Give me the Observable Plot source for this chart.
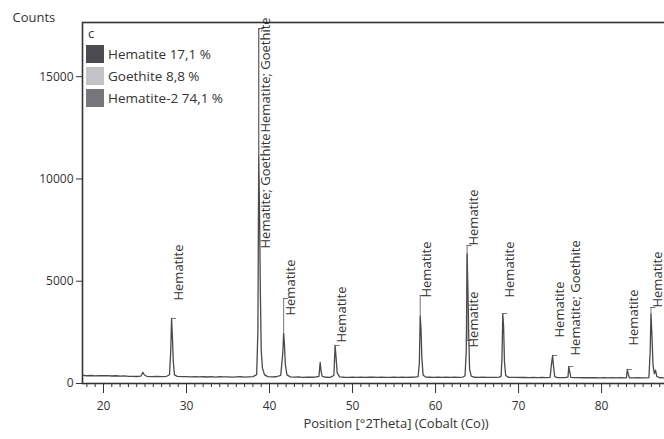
<!DOCTYPE html>
<html>
<head>
<meta charset="utf-8">
<script src="https://cdn.jsdelivr.net/npm/d3@7"></script>
<script src="https://cdn.jsdelivr.net/npm/@observablehq/plot@0.6"></script>
<style>
  html, body { margin: 0; padding: 0; background: #fff; overflow: hidden; }
  #wrap { position: relative; width: 709px; height: 439px; font-family: "Open Sans", sans-serif; color: #333; }
  #legend { position: absolute; left: 86px; top: 24px; font-size: 13.5px; }
  #legend .hdr { position: absolute; left: 2px; top: 0px; line-height: 18px; font-size: 13px; }
  #legend .row { position: absolute; left: 0; height: 18px; display: flex; align-items: center; white-space: nowrap; }
  #legend .sw { width: 18px; height: 18px; margin-right: 4px; }
</style>
</head>
<body>
<div id="wrap"><div id="chart"></div><div id="legend"></div></div>
<script>
// ---- data ----
const twoTheta = [17.5,18.0,18.5,19.0,19.5,20.0,20.5,21.0,21.5,22.0,22.5,23.0,23.5,24.0,24.5,24.75,24.9,25.2,25.8,26.5,27.0,27.6,27.95,28.1,28.2,28.3,28.4,28.55,28.9,29.5,30.0,30.5,31.0,31.5,32.0,32.5,33.0,33.5,34.0,34.5,35.0,35.5,36.0,36.5,37.0,37.5,38.0,38.45,38.6,38.7,38.8,38.9,39.0,39.15,39.4,39.8,40.3,40.8,41.35,41.6,41.7,41.8,41.9,42.1,42.5,43.0,43.5,44.0,44.5,45.0,45.5,45.95,46.1,46.2,46.35,46.8,47.3,47.75,47.9,48.0,48.15,48.45,49.0,49.5,50.0,50.5,51.0,51.5,52.0,52.5,53.0,53.5,54.0,54.5,55.0,55.5,56.0,56.5,57.0,57.5,57.9,58.05,58.15,58.25,58.35,58.5,58.8,59.3,59.8,60.3,60.8,61.3,61.8,62.3,62.8,63.3,63.55,63.7,63.8,63.9,64.0,64.1,64.3,64.7,65.2,65.7,66.2,66.7,67.2,67.7,67.9,68.0,68.1,68.2,68.3,68.45,68.8,69.3,69.8,70.3,70.8,71.3,71.8,72.3,72.8,73.3,73.8,73.95,74.1,74.2,74.35,74.7,75.2,75.6,75.95,76.05,76.15,76.3,76.8,77.3,77.8,78.3,78.8,79.3,79.8,80.3,80.8,81.3,81.8,82.3,82.8,83.0,83.1,83.2,83.35,83.8,84.3,84.8,85.3,85.7,85.85,85.95,86.05,86.2,86.35,86.5,86.65,87.0,87.5,88.0,88.5,89.0,89.5,90.0,91.0,92.0,93.0];
const counts   = [395,380,392,372,386,378,388,366,379,362,371,348,352,342,365,545,430,352,340,346,336,352,430,1600,3180,2300,1100,420,350,332,336,322,341,326,331,318,336,316,330,321,326,311,322,331,316,326,340,430,2600,11150,8200,4300,1600,750,420,335,322,330,400,1500,2450,1900,950,420,322,312,320,302,311,306,312,345,1030,620,345,305,302,390,1860,1350,520,322,306,300,311,302,309,298,305,312,300,306,298,304,310,300,306,298,305,312,340,1000,3320,2650,1250,420,312,305,298,306,300,310,302,308,300,315,380,1600,6350,4600,2300,700,360,305,300,308,298,304,296,310,360,1250,3420,2750,1050,390,300,296,302,294,300,292,298,290,296,288,300,900,1370,880,340,290,286,292,310,830,600,300,284,290,282,288,280,286,278,284,276,282,276,280,274,290,684,480,282,276,280,274,278,290,1500,3420,2500,900,480,650,350,280,274,278,272,276,270,274,270,272,268];

// peak labels
const labelPos   = [28.2, 38.7, 38.7, 41.7, 47.9, 58.15, 63.8, 63.8, 68.1, 74.1, 76.05, 83.1, 85.95];
const labelText  = ["Hematite","Hematite; Goethite","Hematite; Goethite","Hematite","Hematite","Hematite","Hematite","Hematite","Hematite","Hematite","Hematite; Goethite","Hematite","Hematite"];
const labelPeak  = [3180, 11150, 11150, 2450, 1860, 3320, 6350, 6350, 3420, 1370, 830, 684, 3420];
const labelStem  = [3180, 17350, 17350, 4155, 1860, 4301, 6745, 2102, 3420, 1370, 830, 684, 3715];
const labelBase  = [4057, 6600, 12270, 3324, 2004, 4204, 6745, 1760, 4204, 2249, 1369, 1857, 3715];

// axes
const xMajor = [20, 30, 40, 50, 60, 70, 80];
const xMinor = [18,19,21,22,23,24,25,26,27,28,29,31,32,33,34,35,36,37,38,39,41,42,43,44,45,46,47,48,49,51,52,53,54,55,56,57,58,59,61,62,63,64,65,66,67,68,69,71,72,73,74,75,76,77,78,79,81,82,83,84,85,86,87,88,89,90,91,92,93];
const yTicks = [0, 5000, 10000, 15000];

// legend
const phaseNames  = ["Hematite 17,1 %", "Goethite 8,8 %", "Hematite-2 74,1 %"];
const phaseColors = ["#4b4b50", "#c3c3c7", "#76767b"];
const panelLetter = "c";
const xTitle = "Position [°2Theta] (Cobalt (Co))";
const yTitle = "Counts";

const pattern = twoTheta.map((t, i) => ({t, c: counts[i]}));
const labels = labelPos.map((p, i) => ({p, text: labelText[i], peak: labelPeak[i], stem: labelStem[i], base: labelBase[i]}));

const chart = Plot.plot({
  width: 709,
  height: 439,
  marginLeft: 82,
  marginRight: 0,
  marginTop: 22,
  marginBottom: 56,
  x: {domain: [17.47, 93]},
  y: {domain: [0, 17650]},
  style: {fontFamily: "Open Sans, sans-serif", fontSize: "11px", color: "#333", background: "white"},
  marks: [
    Plot.line(pattern, {x: "t", y: "c", stroke: "#4a4a4a", strokeWidth: 1.3}),
    Plot.ruleX(labels, {x: "p", y1: "peak", y2: "stem", stroke: "#555", strokeWidth: 0.8}),
    Plot.ruleY(labels, {y: "stem", x1: "p", x2: d => d.p + 0.6, stroke: "#555", strokeWidth: 0.8}),
    Plot.text(labels, {x: "p", y: "base", text: "text", rotate: -90, textAnchor: "start", dx: 7, fontSize: 13, fill: "#333"}),
    Plot.axisX({ticks: xMinor, tickSize: 4, tickFormat: () => "", label: null, stroke: "#333"}),
    Plot.axisX({ticks: xMajor, tickSize: 10, tickPadding: 8, fontSize: 12, label: null, stroke: "#333"}),
    Plot.axisY({ticks: yTicks, tickSize: 6, tickPadding: 3, fontSize: 12, tickFormat: d => String(d), label: null, stroke: "#333"}),
    Plot.frame({stroke: "#333", strokeWidth: 1.6}),
    Plot.text([xTitle], {frameAnchor: "bottom", dy: 44, fontSize: 13, fill: "#333"}),
    Plot.text([yTitle], {frameAnchor: "top-left", dx: -70, dy: -10, textAnchor: "start", fontSize: 13, fill: "#333"})
  ]
});
document.getElementById("chart").appendChild(chart);

// legend overlay inside the frame
const lg = document.getElementById("legend");
const hdr = document.createElement("div");
hdr.className = "hdr"; hdr.textContent = panelLetter; lg.appendChild(hdr);
phaseNames.forEach((n, i) => {
  const row = document.createElement("div");
  row.className = "row";
  row.style.top = (21 + i * 22) + "px";
  const sw = document.createElement("div");
  sw.className = "sw"; sw.style.background = phaseColors[i];
  const tx = document.createElement("span"); tx.textContent = n;
  row.appendChild(sw); row.appendChild(tx); lg.appendChild(row);
});
</script>
</body>
</html>
